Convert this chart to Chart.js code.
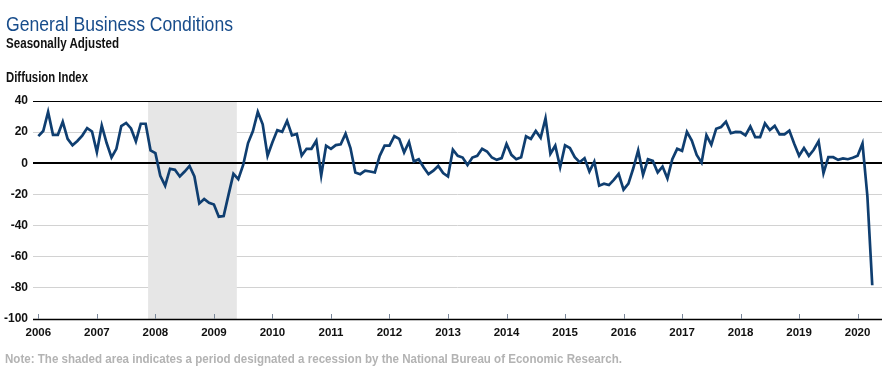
<!DOCTYPE html>
<html><head><meta charset="utf-8">
<script src="https://cdn.jsdelivr.net/npm/chart.js@4.4.1/dist/chart.umd.min.js"></script>
<style>
html,body{margin:0;padding:0;background:#fff;width:896px;height:379px;overflow:hidden;}
#wrap{position:relative;width:896px;height:379px;}
canvas{position:absolute;left:0;top:0;}
.t{position:absolute;left:6px;white-space:nowrap;line-height:1;transform-origin:0 50%;font-family:"Liberation Sans",Arial,sans-serif;}
#title{top:15px;font-size:19.5px;color:#174c8b;}
#sub{top:36px;font-size:14px;font-weight:bold;color:#111;}
#unit{top:70px;font-size:14px;font-weight:bold;color:#111;}
#note{top:352px;left:5px;font-size:13.5px;font-weight:bold;color:#b3b3b3;}
</style></head>
<body><div id="wrap">
<canvas id="c" width="896" height="379"></canvas>
<div class="t" id="title" data-w="227">General Business Conditions</div>
<div class="t" id="sub" data-w="113">Seasonally Adjusted</div>
<div class="t" id="unit" data-w="82">Diffusion Index</div>
<div class="t" id="note" data-w="617">Note: The shaded area indicates a period designated a recession by the National Bureau of Economic Research.</div>
</div>
<script>
// Monthly values, Jan 2006 – Apr 2020
const v2006 = [17.4, 20.7, 33.0, 18.3, 18.3, 26.7, 15.7, 11.5, 14.3, 17.8, 22.6, 20.4];
const v2007 = [7.2, 24.3, 13.0, 3.7, 9.3, 23.9, 25.9, 22.4, 14.1, 25.4, 25.4, 8.3];
const v2008 = [6.5, -8.0, -14.4, -3.5, -4.2, -8.5, -5.3, -1.7, -8.5, -25.8, -22.9, -25.4];
const v2009 = [-26.5, -34.3, -33.9, -20.1, -6.8, -10.2, -1.1, 13.0, 20.7, 33.0, 25.0, 4.8];
const v2010 = [13.5, 21.3, 20.2, 27.2, 18.0, 18.9, 5.0, 9.3, 9.3, 14.5, -7.8, 11.3];
const v2011 = [9.3, 11.7, 12.2, 19.0, 9.8, -5.9, -7.0, -4.7, -5.3, -5.9, 4.8, 11.3];
const v2012 = [11.3, 17.4, 15.7, 7.0, 13.7, 1.1, 2.6, -2.5, -7.0, -4.7, -1.7, -6.3];
const v2013 = [-8.5, 8.7, 4.8, 3.7, -1.1, 3.7, 4.8, 9.3, 7.6, 3.7, 2.2, 3.3];
const v2014 = [12.4, 5.4, 2.6, 3.9, 17.4, 15.7, 20.7, 16.3, 28.9, 6.1, 11.3, -2.5];
const v2015 = [11.5, 9.8, 3.9, 0.7, 3.3, -5.3, 1.1, -14.4, -13.1, -14.0, -10.6, -6.8];
const v2016 = [-16.9, -13.1, -3.2, 8.3, -7.4, 2.6, 1.5, -5.9, -2.1, -9.7, 2.6, 9.3];
const v2017 = [8.0, 20.2, 14.6, 5.4, 0.4, 18.0, 12.0, 22.2, 23.3, 26.7, 19.3, 20.2];
const v2018 = [20.0, 17.9, 23.6, 16.8, 16.8, 25.6, 21.4, 24.0, 18.6, 18.6, 21.0, 12.5];
const v2019 = [4.8, 9.8, 4.8, 8.7, 14.2, -6.4, 3.9, 3.9, 2.2, 3.1, 2.6, 3.5];
const v2020 = [4.8, 12.7, -21.0, -78.3];

const yearLabels = ["2006","2007","2008","2009","2010","2011","2012","2013","2014","2015","2016","2017","2018","2019","2020"];
const yTicks = [40, 20, 0, -20, -40, -60, -80, -100];
// Recession period in months since Jan 2006 (Dec 2007 – Jun 2009)
const recessionStart = 22.5;
const recessionEnd = 40.7;

const series = [].concat(v2006, v2007, v2008, v2009, v2010, v2011, v2012, v2013, v2014, v2015, v2016, v2017, v2018, v2019, v2020);
const points = series.map((v, i) => ({x: i, y: v}));

// condense header/note text to the reference's narrow typeface widths
document.querySelectorAll('.t').forEach(el => {
  const w = el.getBoundingClientRect().width;
  const target = parseFloat(el.dataset.w);
  if (w > 0) el.style.transform = 'scaleX(' + (target / w) + ')';
});

const FONT = '"Liberation Sans",Arial,sans-serif';

const shadePlugin = {
  id: 'shade',
  beforeDatasetsDraw(chart) {
    const {ctx, chartArea: a, scales: {x, y}} = chart;
    ctx.save();
    ctx.fillStyle = '#e6e6e6';
    const x0 = x.getPixelForValue(recessionStart), x1 = x.getPixelForValue(recessionEnd);
    ctx.fillRect(x0, a.top, x1 - x0, a.bottom - a.top);
    ctx.strokeStyle = '#000';
    [[0, 2.2], [40, 1.2], [-100, 1.5]].forEach(([v, w]) => {
      const py = Math.round(y.getPixelForValue(v)) + (w < 2 ? 0.5 : 0);
      ctx.lineWidth = w;
      ctx.beginPath(); ctx.moveTo(a.left, py); ctx.lineTo(a.right, py); ctx.stroke();
    });
    ctx.strokeStyle = '#7a8799';
    ctx.lineWidth = 1;
    x.ticks.forEach(t => {
      const px = Math.round(x.getPixelForValue(t.value)) + 0.5;
      ctx.beginPath(); ctx.moveTo(px, a.bottom - 5); ctx.lineTo(px, a.bottom); ctx.stroke();
    });
    ctx.restore();
  }
};

new Chart(document.getElementById('c'), {
  type: 'line',
  data: {
    datasets: [{
      data: points,
      borderColor: '#0f3e70',
      borderWidth: 2.7,
      pointRadius: 0,
      tension: 0,
      fill: false
    }]
  },
  options: {
    responsive: false,
    animation: false,
    devicePixelRatio: 1,
    layout: {padding: {top: 101, right: 14, left: 0, bottom: 0}},
    plugins: {legend: {display: false}, tooltip: {enabled: false}},
    scales: {
      x: {
        type: 'linear',
        min: -1.1,
        max: 173,
        afterBuildTicks(scale) { scale.ticks = yearLabels.map((l, k) => ({value: k * 12})); },
        afterFit(scale) { scale.height = 60; },
        grid: {display: false, drawTicks: false},
        border: {display: false},
        ticks: {
          padding: 7,
          maxRotation: 0,
          autoSkip: false,
          color: '#111',
          font: {family: FONT, size: 11.5, weight: 'bold'},
          callback: (val) => yearLabels[Math.round(val / 12)]
        }
      },
      y: {
        min: -100,
        max: 40,
        afterBuildTicks(scale) { scale.ticks = yTicks.map(v => ({value: v})); },
        afterFit(scale) { scale.width = 33; },
        grid: {drawTicks: false, color: '#d2d2d2', lineWidth: 1},
        border: {display: false},
        ticks: {
          padding: 5,
          color: '#111',
          font: {family: FONT, size: 12, weight: 'bold'},
          callback: (v) => String(v)
        }
      }
    }
  },
  plugins: [shadePlugin]
});
</script>
</body></html>
